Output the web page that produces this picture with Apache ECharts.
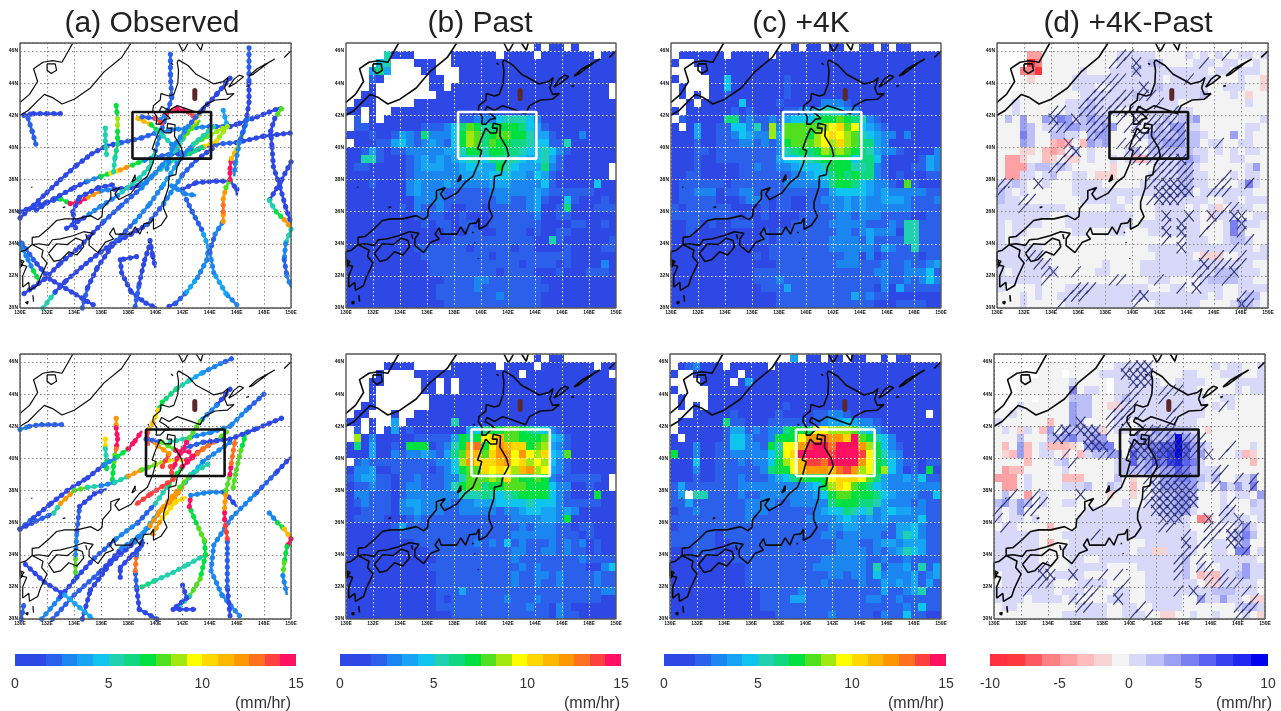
<!DOCTYPE html>
<html><head><meta charset="utf-8">
<style>html,body{margin:0;padding:0;background:#fff}#c{width:1281px;height:711px;filter:blur(0.55px)}</style>
<script src="https://cdn.jsdelivr.net/npm/echarts@6/dist/echarts.min.js"></script>
</head><body><div id="c"></div>
<script>
// ---------- colour levels ----------
const rainColors=['#2e48e6','#2e48e6','#2a60ea','#1c86f0','#18a4f4','#10c4f0','#20d0b0','#10d880','#00e040','#50e020','#a0e810','#ffff00','#ffd800','#ffb800','#ff9800','#ff7020','#ff4040','#ff1060'];
const diffColors=['#ff3040','#ff3840','#ff5860','#ff8084','#ffa0a4','#ffbcbc','#f6d4d4','#f3f3f3','#d8d8f8','#bcc0f6','#9aa0f4','#7a80f2','#5a60f0','#3840f0','#2028f0','#0000f0'];
const rainTicks=[0,5,10,15], diffTicks=[-10,-5,0,5,10];
const xTickStep=2, yTickStep=2;

// ---------- cell grids, top row = 46.0-46.5N, left col = 130E; "." = no data ----------
const pastTop=[
"...... ...... ...... ...... .1.11. 1.....",
".....6 111... ..1111 11.111 1.1111 111.11",
"....56 ...111 ..1111 111111 111111 111111",
"...474 ....11 ...111 111111 111111 111111",
"...21. .....1 1..111 111111 111111 111111",
"...1.. .....1 1.1111 111111 111111 11111.",
"..11.. ...... 111111 111111 111111 11111.",
".111.. ...111 111111 111111 111111 111111",
"11.1.. 111111 111111 111111 111111 111111",
".2.1.1 111111 111223 335666 531111 111111",
".22111 111122 235798 678887 542111 111111",
"111211 243273 335 8a9 789988 644211 131111",
".11122 453234 325 8a9 798877 655226 111111",
"112421 223333 344688 688776 556532 111111",
"116621 112343 434566 577665 456421 111111",
"122111 112344 433455 448654 447321 11111.",
"111111 112333 333444 455544 354211 11111.",
"111211 113433 343333 344433 335211 111511",
"111111 113433 322222 233333 343222 222111",
"111111 111333 322222 223322 342115 211121",
"111111 121322 321122 122222 341127 111222",
"111111 111222 211211 122222 231122 111111",
"111111 111121 221221 122222 221111 221121",
"111111 111111 121122 112222 121122 111111",
"111111 111111 112222 222222 211621 111112",
"111111 111222 222212 222212 211112 111122",
"111111 111122 222222 212222 222222 111111",
"111111 111112 222222 222221 222212 111131",
"111111 111112 222222 221222 211121 112221",
"111111 111111 122223 322222 221111 111111",
"111111 111111 222223 222222 222111 111111",
"111111 111111 222222 223222 221111 111111",
"111111 111111 122222 222222 221111 111111"];
const warmTop=[
"...... ...... ....1. 11.11. .11.1. 11....",
".11111 1.1111 1.1111 111111 111111 111111",
"1..111 111111 111111 111111 111111 111111",
"....11 111111 111111 111111 111111 111111",
"1....1 151111 111211 111111 111111 111111",
".1...1 151111 111211 111111 111111 111111",
".1.1.1 121111 111211 111111 111111 111111",
"..1.11 111511 112111 113332 111111 111111",
"1.1111 112121 111223 446653 311111 111111",
".21111 177232 232455 578898 763211 111111",
"1.1411 225536 2a3999 99abc9 b54321 111111",
"111411 223543 3a4999 8abcba 965433 131111",
"111211 222332 323899 9abaca 977431 111111",
"111221 222222 223678 78a9a9 876433 211113",
"111211 222222 224556 678888 577521 111243",
"111211 111223 223345 556888 667321 112243",
"112211 111222 222233 455787 877321 211122",
"122222 212222 222333 334788 754332 192111",
"122333 122332 222222 222455 554343 333322",
"122222 111233 212211 223334 343344 432223",
"212222 221111 212211 222334 343333 332222",
"222222 222121 211112 222233 233322 221122",
"112212 112221 111122 222333 332223 266222",
"112111 111111 212222 222233 234333 166222",
"111111 111111 212222 222333 324222 266222",
"111111 111111 122222 222333 333243 226222",
"111111 111112 122222 222223 313122 222122",
"111111 111111 112222 222233 322232 232234",
"111111 111112 222222 222222 222332 233352",
"111111 111112 223222 222222 222232 232353",
"111111 111111 222422 222222 222131 422222",
"111111 111111 112222 222222 423221 111111",
"111111 111111 112222 222222 222111 222211"];
const pastBottom=[
"...... ...... ...... ...... .1.11. ......",
".....1 111... ..1111 11.111 1.1111 111.11",
"....1. ...111 111111 11111. 111111 11111.",
"...11. ....11 .1.111 111111 111111 111111",
"...1.. ....11 .1.111 111111 111111 111111",
"...1.. .....1 111111 111111 111111 111111",
"..11.. .....1 111111 111111 111111 111111",
".11... 1..111 111111 111111 111111 111111",
"11.1.. 4.1111 116111 111111 111111 111111",
".2.1.1 412111 111145 788998 765321 111111",
".a1311 111222 224878 bcd998 889542 111111",
"171411 218881 2368ef 8bedcc 89a432 111111",
"111411 323343 2479dd 9ceebe bac549 111111",
".23222 222222 335aec ccdebc aba532 111111",
"133411 222221 235899 cbcbad eab432 111111",
"234422 122322 233699 9a9c98 898322 22221.",
"122322 123322 236899 788999 888533 11211.",
"133222 123333 333666 765678 888532 111811",
"123222 134433 332334 445555 655532 222211",
"112222 133433 322333 332334 554434 311111",
"122221 112322 222222 222233 334438 111111",
"111111 242222 222222 222223 233322 122111",
"111111 122222 222222 222233 333322 212111",
"111111 111222 222223 232523 222323 231211",
"111111 111112 222222 222233 223323 221211",
"111111 111111 222222 222232 222222 232222",
"111111 111112 222222 222223 232222 221135",
"111111 111111 222222 222232 233232 222322",
"111111 111111 222222 222232 232232 222322",
"111111 111111 222422 222222 222222 222233",
"111111 111111 212222 222322 232222 222211",
"111111 111111 222222 222222 322132 111111",
"111111 111111 112222 222222 222132 211111"];
const warmBottom=[
"...... ...... ....4. 11.11. 11..1. 11....",
".12311 1.1111 1.1111 111111 111111 111111",
"1..111 111.11 111111 111111 111111 111111",
"....11 11.141 111111 111111 111111 111111",
"1....1 111111 111111 111111 111111 111111",
".1...1 111111 111111 111111 111111 111111",
".1.1.1 111111 111211 111111 111111 111111",
"...111 112111 112111 122332 111111 1111.1",
".11111 172211 122222 123445 433211 111111",
".11111 124423 233788 8bbaaa 965321 111111",
"1.1111 125532 238 88b eefeec h98653 111111",
"111311 225533 286bbe ghhfhh hea853 211111",
"811311 223333 357bch hhhghh hgb864 311111",
"111511 222323 358abd ggfhhh heb875 322122",
"111311 222222 3788bd eeedfg eab8a5 312181",
"111211 222322 234578 888bcc cb9743 343522",
"242222 222333 333333 458acb 987543 333333",
"24.662 222322 333333 345899 888754 333225",
"224222 222233 332233 333788 877643 332322",
"122322 222233 322222 234557 656345 443322",
"222222 222232 222222 333345 434343 333522",
"122222 222222 222222 222334 433332 445322",
"222222 122222 222222 223323 333322 465322",
"222222 112222 222222 222233 322344 344422",
"111222 111222 222222 222233 332323 465422",
"111111 112222 222222 223333 332232 232222",
"111111 111122 222222 233333 332623 342624",
"111111 111122 222222 222332 332533 334234",
"111111 111122 222222 223222 232243 434242",
"111111 111111 222223 222222 222242 234622",
"111111 111111 222244 222222 223322 322222",
"111111 111111 222222 222222 222222 232522",
"111111 111111 112222 222322 222132 252211"];
const diffTop=[
"...... ...... ...... ...... ...... ......",
"....44 777777 777788 888777 787878 778878",
"....13 777777 777788 889977 778887 887787",
"...331 777778 777888 988888 888878 878887",
"...767 777788 888888 888878 888887 778776",
"...777 777788 877888 888988 888877 888776",
"..7777 777778 888888 988888 888977 787677",
"778777 777888 988888 888888 777777 777877",
"778777 777889 988877 888888 887777 777777",
"797a77 a9ba89 a99777 778898 99a777 777778",
"777a97 889aa9 99aa77 87898a a88777 777887",
"777b97 799887 9aa777 78a999 a99877 7a7877",
"777a97 754575 a9a777 7799aa a99788 778877",
"777667 545787 877778 979999 998878 787887",
"744677 567667 877878 558888 9a9877 788777",
"744489 989877 777677 777888 998777 7778a7",
"744887 897788 766677 778888 998877 787887",
"889877 877788 887777 788888 998877 778b87",
"987877 777788 888888 888888 997888 888877",
"988777 777778 888878 777888 888877 887888",
"888888 888777 777887 777888 878786 788877",
"888888 877888 888888 777888 888768 887788",
"878888 777888 888888 788888 888777 8b9887",
"878877 777788 777887 778888 888777 8b9777",
"878777 777777 777777 777777 788877 899877",
"888888 777777 777777 778888 788888 888878",
"888888 777777 777777 777888 887666 778888",
"888888 877777 778777 788888 888888 888877",
"878888 887777 788777 788888 888889 998887",
"888888 777777 777777 778887 777899 998877",
"877778 777888 888888 887778 877888 778888",
"777878 778888 888888 888888 888878 778997",
"777877 777888 888888 777888 888777 78a987"];
const diffBottom=[
"...... ...... ...... ...... ...... ......",
".....7 777777 777788 888777 777778 788778",
"...... 777.77 778888 888777 788777 888778",
"...777 777787 777.88 888877 888877 778888",
"...777 7777b7 887.88 888888 888777 778788",
"....7. 777799 977789 888888 888877 887777",
"...877 7777a9 977668 888888 888878 787777",
"778777 7777a9 977788 888888 888877 777777",
"877777 757 7a9 777788 788888 888777 777777",
"787687 5a7999 996788 788a99 998767 777777",
"777977 799ab9 9aa777 9aa99a fa9777 777777",
"757a57 855567 abbb77 aabbcc fca987 777787",
"765a57 887675 899aa7 caaccd fcaa77 778567",
"777757 778977 777789 c9acbd ecb877 777757",
"745577 777877 777789 99a9aa cba888 777777",
"444787 777555 777797 6778aa bba989 7788a7",
"744787 777888 977987 5778aa aaa877 a8a8b7",
"797747 877777 777677 677899 aa9777 87887a",
"9a8a97 877887 777778 778899 aa9777 877798",
"878a77 777777 888888 888899 aa8777 887788",
"878878 777778 888888 888889 987347 888878",
"788777 757778 888888 888888 887777 778a87",
"888888 777888 888888 888888 888777 789b97",
"888888 757788 888888 778888 888778 879a77",
"888888 777888 888888 788668 888778 87bb78",
"888888 777788 778888 888888 897778 888887",
"888888 877788 888777 788888 897877 888a88",
"788888 878888 777777 778888 897565 889a88",
"788888 887778 888777 778888 888766 888887",
"888888 887888 777788 778888 888889 998887",
"888878 888787 777888 778888 877a88 a88766",
"788777 777778 888778 877888 877777 778998",
"777777 777888 888778 887766 778778 777876"];
// significance hatching: [row, first col, last col, 0 = "/" , 1 = crossed]
const hatchTop=[[1,16,17,0],[1,30,30,0],[2,15,16,0],[2,18,18,1],[2,27,27,0],[3,18,18,1],[4,14,16,0],[4,25,25,0],[5,13,15,0],[5,19,19,1],[6,12,14,0],[6,16,17,0],[6,19,20,0],[7,11,13,0],[7,15,16,0],[7,21,21,0],[8,7,8,0],[8,11,14,0],[8,15,18,0],[8,23,23,0],[9,7,7,1],[9,10,10,1],[9,12,14,0],[9,16,16,0],[9,18,18,1],[9,19,20,0],[9,21,23,0],[10,7,9,0],[10,12,14,0],[10,17,24,0],[11,12,13,0],[11,18,18,1],[11,19,19,0],[11,21,24,0],[12,9,9,1],[12,16,18,0],[12,20,24,0],[12,29,29,0],[13,9,9,0],[13,10,10,1],[13,17,23,0],[14,8,9,0],[14,18,23,0],[14,24,24,1],[15,7,8,0],[15,21,25,0],[16,20,25,0],[16,30,30,0],[17,0,1,0],[17,5,5,1],[17,20,21,0],[17,22,24,1],[17,25,25,0],[17,29,30,0],[17,33,33,0],[18,0,0,0],[18,21,25,1],[18,28,30,0],[19,3,4,0],[19,20,20,0],[19,21,23,1],[19,24,24,0],[20,3,3,0],[20,30,31,0],[21,22,22,1],[21,25,25,1],[21,28,28,1],[21,29,29,0],[21,31,32,1],[22,22,22,0],[22,24,24,1],[22,28,28,0],[22,32,32,1],[23,22,22,1],[23,24,24,1],[23,27,27,0],[23,32,32,0],[24,22,22,0],[24,24,24,0],[24,33,33,0],[25,24,24,1],[25,31,31,0],[26,4,5,0],[26,27,27,0],[26,29,29,0],[26,32,32,0],[27,5,6,0],[27,27,27,1],[27,28,32,0],[28,6,6,0],[28,7,7,1],[28,10,10,0],[28,26,29,0],[28,31,31,1],[29,6,6,0],[29,15,16,0],[29,21,21,0],[29,26,27,0],[29,30,30,0],[30,10,12,0],[30,24,24,0],[30,26,26,1],[31,9,11,0],[31,18,18,0],[31,19,19,1],[31,32,33,0],[32,8,8,0],[32,18,18,0],[32,32,32,1],[32,33,33,0]];
const hatchBottom=[[1,17,18,0],[1,19,20,1],[2,17,20,1],[3,18,20,1],[4,18,19,0],[4,22,24,0],[5,17,18,0],[5,22,22,0],[6,16,18,0],[6,24,24,0],[6,30,30,0],[7,15,17,0],[7,19,19,0],[7,23,23,0],[8,11,11,1],[8,15,17,0],[8,23,23,0],[9,8,10,0],[9,9,9,1],[9,11,13,1],[9,15,15,0],[9,19,23,0],[10,8,8,1],[10,9,9,0],[10,12,13,1],[10,20,22,0],[10,23,27,0],[11,12,14,1],[11,18,25,1],[11,26,27,0],[11,31,31,0],[12,9,9,0],[12,14,15,0],[12,18,25,1],[12,26,26,0],[12,28,28,1],[12,30,30,0],[13,10,10,0],[13,19,24,0],[14,18,25,0],[14,29,30,0],[15,20,25,0],[15,29,29,0],[15,32,32,0],[15,34,34,0],[16,20,20,0],[16,21,25,1],[16,26,26,0],[16,29,29,0],[16,34,34,0],[17,2,2,0],[17,5,5,0],[17,11,11,1],[17,20,20,0],[17,21,26,1],[18,1,1,0],[18,4,6,0],[18,20,20,0],[18,21,26,1],[18,31,31,0],[19,0,0,0],[19,4,5,0],[19,21,25,1],[19,30,31,0],[20,0,0,0],[20,22,24,1],[20,28,28,1],[20,30,30,0],[20,32,32,1],[21,1,1,0],[21,22,23,0],[21,28,33,0],[22,13,13,0],[22,25,25,0],[22,28,29,0],[22,31,32,1],[23,25,25,1],[23,27,28,0],[23,31,32,1],[24,25,26,0],[24,33,33,0],[25,24,25,0],[25,27,27,0],[26,6,7,0],[26,24,24,0],[26,27,28,0],[27,6,7,1],[27,10,10,1],[27,14,14,0],[27,16,16,0],[27,24,24,0],[27,28,28,0],[27,30,30,0],[28,5,7,0],[28,12,12,0],[28,17,17,0],[28,28,32,0],[29,4,4,0],[29,12,13,0],[29,16,16,0],[29,24,24,0],[29,26,26,1],[29,33,33,0],[30,10,12,0],[30,16,16,1],[30,27,27,0],[30,34,34,0],[31,11,12,0],[31,19,19,0],[31,32,34,0],[32,18,18,0],[32,20,20,0],[32,32,33,0]];

// ---------- storm tracks: [lon, lat, rain mm/hr] ----------
const tracksObservedTop=[
[[130.3,42,1],[131,42.1,1],[132,42.1,1],[133.1,42.1,1]],
[[130.6,41.8,2],[130.9,41,2],[131.2,40.1,2]],
[[130,35.6,1],[131,36.4,1],[132,37.2,1],[133,38,1],[134.2,38.9,1],[135.3,39.6,1],[136.4,40.1,1],[137.5,40.3,2],[139,40.6,2],[140,40.9,3],[141.2,41.1,3],[142.5,41.2,3],[144,41.3,2],[145.5,41.3,1],[146.2,41.5,1],[147.5,41.9,1],[149.3,42.5,1]],
[[130,36,1],[131,36.3,1],[132,36.6,2],[133,36.8,7],[133.7,36.5,15],[134.4,36.6,15],[135,36.9,12],[136,37.3,3],[137,37.4,1],[138.2,37.5,1],[139,37.7,3],[140,38.4,5],[141,39,5],[142,39.5,3],[143,40.3,8],[144.1,40.8,9],[145,41.2,4]],
[[131.2,36.1,1],[132.5,36.8,1],[134,37.5,1],[135,37.9,3],[136,38.2,7],[136.7,38.4,10],[137.4,38.6,12],[138.3,38.9,7],[139.2,39.2,3],[140,39.4,2],[141.2,39.6,1],[142.3,39.6,2],[143.5,40,2],[144.5,40.2,2],[146,40.3,1],[148,40.7,1],[150,40.9,1]],
[[141,30.1,1],[141.5,30.3,2],[142.3,31,4],[143.1,31.9,3],[143.8,33,3],[143.9,33.8,4],[143.4,34.9,2],[142.7,36,2],[142.2,36.9,1]],
[[142,37.4,1],[143,37.8,1],[144.5,37.9,1],[145.5,37.9,1],[146,37.4,1],[146,37,2]],
[[141.2,37.6,3],[142.2,37.1,3],[143,37,2]],
[[146,30.2,3],[145.2,30.9,4],[144.3,32.2,3],[144,33.5,2],[144.4,34.6,3],[145,35.4,12],[145,36,13],[145,36.8,12],[145.2,37.5,8],[145.5,38,15],[145.5,38.7,15],[145.6,39.3,11],[146,39.9,9],[146.5,41,4],[146.8,41.8,2]],
[[146.9,46.2,2],[146.9,45,2],[146.9,44,1],[146.9,42.8,1],[146.7,41.7,2],[146.2,40.3,3],[145.9,39,3],[145.8,38.2,3]],
[[149.3,42.4,8],[148.8,41.8,1],[148.5,41,1],[148.6,40,1],[148.7,38.8,1],[149.2,37.5,1],[149.6,36.3,1],[150,35.3,5]],
[[150,39.1,1],[149.2,37.8,1],[148.4,36.7,5],[148.9,36,7],[149.5,35.5,12],[150,35,11]],
[[150,34.9,5],[149.6,34,3],[149.5,33,2],[149.7,32,3],[150,31.3,4]],
[[138.6,33.2,1],[137.4,33,1],[137.5,32.2,1],[138.2,31,1],[139.3,30.3,1],[140.1,30,1]],
[[139.6,34.2,1],[139.8,33.2,1],[140,32.5,1]],
[[138.5,30.1,2],[138.8,31.5,1],[139.2,33,1],[139.6,34,1]],
[[134.6,30,2],[135,31.3,1],[135.7,32.5,1],[136.9,34,1],[138.2,34.6,1],[139.4,35.2,2],[140.6,36.5,3],[142,38.3,2],[143,39.2,1],[144.3,40,1]],
[[131.7,30,5],[132.6,31,1],[133.4,31.7,1],[135.2,33,1],[137.1,34.2,2],[138.5,35.4,3],[139.6,36.5,3],[140.6,37.7,4],[141.6,39,3],[142.8,40.2,5],[144.3,41.3,4]],
[[135.4,30.2,1],[133.8,31,1],[132.2,31.8,1],[131,33,2],[130,34.2,2]],
[[130,34,3],[130.6,33,3],[131,32.3,7],[131.4,31.7,4]],
[[130.3,30.9,1],[131,31.3,1],[131.8,31.8,1],[133,32.8,1],[134.4,33.8,1],[136.2,35.4,2],[137.5,36.4,2],[139,37.5,3],[140.5,38.9,3],[142,40.6,8],[143.3,41.7,5]],
[[134.1,35,1],[133.9,36,1],[134.4,36.9,1],[135.8,37.5,1],[137,37.7,1]],
[[141.1,45.8,2],[141.1,44.5,2],[141.2,43.1,2],[140.8,42,2],[140.4,41,3],[139.9,39.5,5],[139.5,38.7,5],[138.7,38,5],[137.2,37,3],[135.9,36.3,3],[134.7,35.6,1],[133.3,34.9,1]],
[[137.1,42.6,7],[137.2,41.8,9],[137.2,41,7],[137.2,40.2,6],[137,39.3,5],[136.9,38.4,4]],
[[136.3,41.2,5],[136.3,40.4,5],[136.4,39.4,4]],
[[138.7,41.8,11],[139.7,41.4,7],[140.2,41,5],[141.2,40.2,3],[142,39.6,6]],
[[140.3,41.7,3],[140.8,42.1,14],[141.6,42.4,15],[142.4,42.2,14],[143,41.8,13]],
[[143.2,42,10],[142.6,41.3,8],[142,40.5,5],[141.3,39.6,6]],
[[145,42.3,4],[145.3,41.3,9],[144.5,40.4,10],[143.4,40,6],[142.3,39.5,12]],
[[145.5,44.3,1],[144.5,43.3,1],[143.3,42.2,2],[142.4,41.3,3],[141.2,39.9,3],[140.8,38.5,3]],
[[139,41.9,2],[140,41.8,14],[140.6,41.4,3]]];
const tracksObservedBottom=[
[[145.6,46.2,2],[144.8,45.9,3],[143.4,45.3,4],[142.4,44.8,5],[141.5,44.3,6],[140.5,43.5,7],[140.2,43,10],[139.8,42.2,11],[139.4,41.6,14],[139.5,40.8,7]],
[[130,41.8,3],[130.7,42,2],[131.6,42.1,2],[133.1,42.1,3]],
[[137.1,42.5,12],[137.1,41.9,15],[137.2,41.2,15],[137.1,40.6,13],[137,40.2,8],[136.9,39.5,7],[136.8,38.5,5]],
[[136.3,41.2,10],[136.3,40.6,5],[136.4,39.8,7],[136.4,39.2,5]],
[[130,35.6,2],[131,36.3,1],[132.3,37.2,1],[133.5,38,1],[135,38.8,1],[136.2,39.6,3],[137.2,40.1,7],[138,40.6,15],[138.5,41.1,15],[139,41.7,13]],
[[130,35.6,1],[131.2,36.1,2],[132.5,36.6,5],[133,37.2,12],[134,38,8],[135,38.2,5],[136,38.3,3],[137,38.5,5],[138,38.9,12],[139,39.3,8],[140,39.6,9],[141,39.9,10],[142.3,39.9,15],[143.5,40.6,13],[144.5,41.1,8],[145.3,41.7,3]],
[[134.1,32.5,8],[134.1,34,3],[134.2,35.5,2],[134.4,37,1],[135.5,37.8,1],[136.4,38.1,3]],
[[131.6,30,3],[133,31.4,1],[134.2,32.6,1],[135.5,33.8,2],[137.1,35,3],[138.7,36,2],[140,37.2,5],[141,38.4,7],[142,39.5,15],[143.1,40.3,13],[144.2,41,7]],
[[132.4,30,2],[134,31.5,2],[136,33,1],[137.5,34.4,3],[139,35.3,4],[140.3,36.7,12],[141.4,37.5,12],[142.2,38.5,4],[143.5,39.8,3],[145.5,41,1]],
[[134.6,30,1],[135.2,31.8,1],[136.7,33.5,1],[138.5,34.8,3],[139.6,35.8,12],[140.6,37,12],[141.8,38.2,8],[142.6,39,5],[144,39.7,5]],
[[130.1,30,2],[130.3,31,2]],
[[130.4,33.4,1],[131.8,32.3,1],[133.3,31.5,4],[135.4,30,3]],
[[139,32,6],[140,32.4,5],[141.3,32.9,5],[142.4,33.4,5],[143.7,34,7],[143.6,34.9,8],[143,36,7],[142.5,37,15],[142.6,37.7,3],[144,37.9,3],[145.1,37.9,1],[146,37,1]],
[[143.7,34,7],[143.3,32.5,8],[142.5,31.4,5],[141.6,30.7,3]],
[[142,32.1,1],[142.3,31.3,1],[141.3,30.6,1],[143,30.6,1]],
[[140.1,30,1],[138.8,30.6,1],[138.6,32,2],[138.5,33,13],[138.6,34,2],[139.1,35,8]],
[[137.4,32.6,1],[137.4,33.2,1],[138.3,34,1],[139.2,34.8,3]],
[[146.2,30.2,3],[144.9,31.5,3],[144.1,33,3],[144.3,34.6,3],[145.6,36.3,3],[147.5,37.9,2],[149,39.2,1],[150,40.1,1]],
[[145.5,30.2,1],[145.3,32,2],[145.3,34.4,2],[145.3,35,14],[145.1,36.2,15],[145.1,36.9,12],[145.2,38,8],[145.5,39,15],[145.6,39.7,13],[145.9,41.3,4]],
[[146.7,41.6,7],[146.3,40.5,8],[145.9,39,8],[145.7,38,5]],
[[148.4,36.6,3],[149,36,7],[149.5,35.6,11],[150,35,15],[149.7,34.5,7],[149.5,33.5,8],[149.4,32.7,3],[149.7,31.5,2]],
[[139.8,35.3,12],[140.5,36.3,10],[141.5,37.3,10],[142.3,37.6,6]],
[[148,44,2],[146.7,43,3],[145.5,42,3],[144,41.6,3],[142.5,41.3,5],[141,41,8]],
[[149.3,42.5,1],[147.3,41.8,1],[145.5,41.2,1],[143.5,41,2],[142,40.6,4]],
[[145.5,44.3,1],[144.5,43.3,3],[143.3,42.3,8],[142.3,41,15],[141.6,40,15],[141.3,39.3,5]],
[[139.3,41.2,2],[140.5,41,8],[141.5,40.5,15],[142.5,40.4,12]],
[[140.5,39.5,14],[141,40.3,12],[139.8,41,10]],
[[141.1,39.5,14],[141.3,38.7,14],[139.5,37.7,14],[138.5,37.1,15]]];

// ---------- coastlines [lon, lat] ----------
const coast=[
[[130,42],[130.6,42.3],[131.3,42.9],[131.8,43.3],[132.4,43.1],[133.1,42.7],[134,43],[135.2,43.7],[136.2,44.7],[137.5,45.6],[138.2,46.5]],
[[130,42.8],[130.7,43.3],[131.3,44.1],[131,44.9],[131.7,45.3],[132.4,45.4],[133.1,45.3],[133.9,46.5]],
[[132,45.2],[132.6,45.2],[132.7,44.8],[132.3,44.6],[132,44.8],[132,45.2]],
[[141.7,45.45],[142.4,45.1],[143,44.55],[143.9,44.15],[144.3,43.95],[145,44.1],[145.35,44.35],[145.1,43.7],[145.3,43.3],[145.8,43.35],[145.3,43],[144.4,42.95],[143.6,42.6],[143.3,42.1],[142.3,42.4],[141.6,42.6],[141,42.3],[140.45,42.55],[140.3,42.3],[140.7,42.1],[141.1,41.8],[140.7,41.75],[140.35,41.45],[140.05,41.45],[140.1,41.9],[139.8,42.3],[139.85,42.6],[140.35,42.95],[140.4,43.35],[141,43.2],[141.35,43.3],[141.65,44],[141.7,44.8],[141.6,45.3],[141.7,45.45]],
[[140.35,41.2],[140.7,40.9],[141.15,40.9],[141.2,41.2],[140.85,41.2],[140.9,41.5],[141.45,41.4],[141.4,40.7],[141.9,40],[142.05,39.5],[141.6,38.8],[141.5,38.3],[141,38.2],[140.95,37.5],[140.6,36.6],[140.6,36.2],[140.85,35.7],[140.4,35.15],[139.85,34.9],[139.85,35.6],[139.65,35.3],[139.15,35.25],[138.85,34.6],[138.5,35.05],[138.2,34.6],[137.05,34.6],[136.9,35],[136.6,34.6],[136.9,34.3],[136.3,34.1],[135.75,33.45],[135.1,33.9],[135.1,34.3],[135.4,34.65],[134.7,34.75],[133.9,34.5],[133,34.3],[132.4,34.25],[132.1,33.9],[131.4,34],[130.9,33.95],[130.9,34.4],[131.4,34.45],[132.1,34.95],[132.7,35.45],[133.3,35.55],[134.2,35.55],[135.2,35.75],[135.75,35.5],[136.05,35.7],[136.1,36.2],[136.7,36.8],[136.7,37.3],[137.35,37.5],[137,37.1],[137.3,36.75],[138.2,37.15],[138.8,37.8],[139.4,38.2],[139.8,39],[140.05,39.8],[139.75,39.9],[140,40.5],[139.9,40.6],[140.35,41.2]],
[[130.9,33.95],[131.7,33.6],[131.6,33.2],[132,32.8],[131.5,31.9],[131.3,31.4],[130.7,31.1],[130.65,31.6],[130.2,31.3],[130.2,32],[130.5,32.6],[130,32.7],[130,33.5],[130.4,33.6],[130.9,33.95]],
[[132.1,33.4],[132.7,34],[133.5,33.95],[134.1,34.35],[134.6,34.2],[134.7,33.8],[134.2,33.3],[133.6,33.5],[133,33],[132.5,32.9],[132.1,33.4]],
[[138.25,37.85],[138.5,38.3],[138.5,38],[138.25,37.85]],
[[141.7,46.5],[142,46],[142.15,46.1],[142.4,46.5]],
[[143,46.5],[143.35,46.05],[143.5,46.5]],
[[145.4,43.75],[145.8,44.25],[146.2,44.5],[146.5,44.4],[145.9,44],[145.4,43.75]],
[[146.9,44.45],[147.5,44.9],[148.8,45.5],[148.3,45.25],[147.2,44.55],[146.9,44.45]],
[[149.5,45.6],[150,46],[150,45.9],[149.5,45.6]],
[[146.7,43.8],[146.9,43.85]],
[[133.15,36.25],[133.35,36.3]],
[[139.4,34.75],[139.4,34.65]],
[[139.5,34.1],[139.55,34.05]],
[[139.8,33.1],[139.8,33.05]],
[[131,30.4],[130.95,30.8]],
[[130.4,30.35],[130.6,30.4],[130.55,30.25],[130.4,30.35]],
[[130,32.5],[130.2,32.7],[130,33],[130.3,32.9],[130,32.6]],
[[134.85,34.6],[134.95,34.3]],
[[141.15,45.25],[141.3,45.15]],
[[139.45,42.15],[139.5,42.05]],
[[130.85,37.55],[130.9,37.5]]];
const lakeSpot=[[142.9,43.05],[142.9,43.55]];

// ---------- study boxes [lonW, latS, lonE, latN] ----------
const boxTop=[138.3,39.3,144.1,42.2], boxBottom=[139.3,38.9,145.1,41.8];
const lonExtent=[130,150], latExtent=[30,46.5];
const dLon=20/36, dLat=0.5;

// ---------- layout ----------
const panels=[
 {l:20,t:43,w:271,h:265,boxC:'#111',gridC:'#888',tracks:tracksObservedTop,box:boxTop},
 {l:346,t:43,w:270,h:265,boxC:'#fff',gridC:'#fff',cells:pastTop,pal:rainColors,box:boxTop},
 {l:671,t:43,w:270,h:265,boxC:'#fff',gridC:'#fff',cells:warmTop,pal:rainColors,box:boxTop},
 {l:997,t:43,w:271,h:265,boxC:'#111',gridC:'#888',cells:diffTop,pal:diffColors,hatch:hatchTop,box:boxTop},
 {l:20,t:354,w:271,h:265,boxC:'#111',gridC:'#888',tracks:tracksObservedBottom,box:boxBottom},
 {l:346,t:354,w:270,h:265,boxC:'#fff',gridC:'#fff',cells:pastBottom,pal:rainColors,box:boxBottom},
 {l:670,t:354,w:271,h:265,boxC:'#fff',gridC:'#fff',cells:warmBottom,pal:rainColors,box:boxBottom},
 {l:994,t:354,w:271,h:265,boxC:'#111',gridC:'#888',cells:diffBottom,pal:diffColors,hatch:hatchBottom,box:boxBottom}];
const titles=[['(a) Observed',147],['(b) Past',475],['(c) +4K',796],['(d) +4K-Past',1123]];
const bars=[
 {l:15,w:281,min:0,max:15,ticks:rainTicks,pal:rainColors,unit:258},
 {l:340,w:281,min:0,max:15,ticks:rainTicks,pal:rainColors,unit:587},
 {l:664,w:282,min:0,max:15,ticks:rainTicks,pal:rainColors,unit:911},
 {l:990,w:278,min:-10,max:10,ticks:diffTicks,pal:diffColors,unit:1239}];

const grid=[],xAxis=[],yAxis=[],series=[];
const rnd=v=>Math.round(v+1e-6);
function decode(rows){const out=[];rows.forEach((s,r)=>{s.replace(/ /g,'').split('').forEach((ch,c)=>{
  if(ch!=='.')out.push([lonExtent[0]+c*dLon,46-r*dLat,parseInt(ch,36)]);});});return out;}
function frameOf(){return [[lonExtent[0],latExtent[0]],[lonExtent[1],latExtent[0]],[lonExtent[1],latExtent[1]],[lonExtent[0],latExtent[1]],[lonExtent[0],latExtent[0]]];}

panels.forEach((p,i)=>{
  grid.push({left:p.l,top:p.t,width:p.w,height:p.h});
  const sl={show:true,lineStyle:{color:p.gridC,type:[1.5,2.5],width:1}};
  xAxis.push({gridIndex:i,type:'value',min:lonExtent[0],max:lonExtent[1],interval:xTickStep,z:5,
    axisLine:{show:false},axisTick:{show:false},splitLine:sl,
    axisLabel:{fontSize:5,fontWeight:'bold',color:'#111',fontFamily:'Liberation Sans',margin:2,formatter:v=>v+'E'}});
  yAxis.push({gridIndex:i,type:'value',min:latExtent[0],max:latExtent[1],interval:yTickStep,z:5,
    axisLine:{show:false},axisTick:{show:false},splitLine:sl,
    axisLabel:{fontSize:5,fontWeight:'bold',color:'#111',fontFamily:'Liberation Sans',showMaxLabel:false,margin:2,formatter:v=>v+'N'}});
  const base={xAxisIndex:i,yAxisIndex:i,silent:true,animation:false};
  if(p.cells){
    series.push(Object.assign({type:'custom',z:2,encode:{x:0,y:1},data:decode(p.cells),progressive:0,
      renderItem:(ps,api)=>{
        const a=api.coord([api.value(0),api.value(1)]),b=api.coord([api.value(0)+dLon,api.value(1)+dLat]);
        const x0=rnd(a[0]),x1=rnd(b[0]),y0=rnd(b[1]),y1=rnd(a[1]);
        return {type:'rect',shape:{x:x0,y:y0,width:x1-x0,height:y1-y0},style:{fill:p.pal[api.value(2)]}};
      }},base));
  }
  if(p.hatch){
    const h=[];p.hatch.forEach(([r,a,b,k])=>{for(let c=a;c<=b;c++)h.push([lonExtent[0]+c*dLon,46-r*dLat,k]);});
    series.push(Object.assign({type:'custom',z:3,encode:{x:0,y:1},data:h,progressive:0,
      renderItem:(ps,api)=>{
        const lo=api.value(0),la=api.value(1),k=api.value(2);
        const a=api.coord([lo-0.08,la-0.1]),b=api.coord([lo+dLon+0.08,la+dLat+0.1]);
        const st={stroke:'#2c3278',lineWidth:1.1};
        const ch=[{type:'line',shape:{x1:a[0],y1:a[1],x2:b[0],y2:b[1]},style:st}];
        if(k)ch.push({type:'line',shape:{x1:a[0],y1:b[1],x2:b[0],y2:a[1]},style:st});
        return {type:'group',children:ch};
      }},base));
  }
  if(p.tracks){
    const segs=[];p.tracks.forEach(t=>{for(let j=0;j<t.length-1;j++)segs.push([t[j][0],t[j][1],t[j+1][0],t[j+1][1],t[j][2]]);});
    series.push(Object.assign({type:'custom',z:3,encode:{x:[0,2],y:[1,3]},data:segs,progressive:0,
      renderItem:(ps,api)=>{
        const a=api.coord([api.value(0),api.value(1)]),b=api.coord([api.value(2),api.value(3)]);
        const col=rainColors[Math.min(17,Math.floor(api.value(4)*18/15))];
        const sh={x1:a[0],y1:a[1],x2:b[0],y2:b[1]};
        return {type:'group',children:[
          {type:'line',shape:sh,style:{stroke:col,lineWidth:2.6}},
          {type:'line',shape:sh,style:{stroke:col,lineWidth:5.2,lineCap:'round',lineDash:[0.01,6.6]}}]};
      }},base));
  }
  const cd=[];coast.forEach((c,n)=>{if(n)cd.push([null,null]);c.forEach(q=>cd.push(q));});
  series.push(Object.assign({type:'line',z:6,data:cd,symbol:'none',clip:true,connectNulls:false,
    lineStyle:{color:'#0a0a0a',width:p.tracks?1.2:1.6}},base));
  series.push(Object.assign({type:'line',z:6,data:lakeSpot,symbol:'none',lineStyle:{color:'#5a2828',width:5,cap:'round'}},base));
  const b=p.box;
  series.push(Object.assign({type:'line',z:7,symbol:'none',clip:false,
    data:[[b[0],b[1]],[b[2],b[1]],[b[2],b[3]],[b[0],b[3]],[b[0],b[1]]],
    lineStyle:{color:p.boxC,width:2.6}},base));
  series.push(Object.assign({type:'line',z:8,symbol:'none',clip:false,data:frameOf(),
    lineStyle:{color:'#555',width:1.4}},base));
});

bars.forEach((bar,n)=>{
  const i=panels.length+n;
  grid.push({left:bar.l,top:654,width:bar.w,height:12});
  xAxis.push({gridIndex:i,type:'value',min:bar.min,max:bar.max,
    interval:bar.ticks[1]-bar.ticks[0],
    axisLine:{show:false},axisTick:{show:false},splitLine:{show:false},
    axisLabel:{fontSize:14,color:'#333',margin:11,fontFamily:'Liberation Sans',hideOverlap:false}});
  yAxis.push({gridIndex:i,type:'value',min:0,max:1,show:false});
  const step=(bar.max-bar.min)/bar.pal.length;
  series.push({type:'custom',xAxisIndex:i,yAxisIndex:i,silent:true,animation:false,z:2,encode:{x:[0,1],y:2},
    data:bar.pal.map((c,j)=>[bar.min+j*step,bar.min+(j+1)*step,1,j]),
    renderItem:(ps,api)=>{
      const a=api.coord([api.value(0),0]),b=api.coord([api.value(1),1]);
      return {type:'rect',shape:{x:rnd(a[0]),y:b[1],width:rnd(b[0])-rnd(a[0]),height:a[1]-b[1]},style:{fill:bar.pal[api.value(3)]}};
    }});
});

const title=titles.map(([t,x])=>({text:t,left:x,top:4,textAlign:'center',
  textStyle:{fontSize:30,fontWeight:'normal',color:'#222',fontFamily:'Liberation Sans'}}));
bars.forEach(b=>title.push({text:'(mm/hr)',left:b.unit,top:691,textAlign:'center',
  textStyle:{fontSize:16,fontWeight:'normal',color:'#333',fontFamily:'Liberation Sans'}}));

const chart=echarts.init(document.getElementById('c'),null,{renderer:'canvas'});
chart.setOption({animation:false,backgroundColor:'#fff',title,grid,xAxis,yAxis,series,tooltip:{show:false}});
</script></body></html>
